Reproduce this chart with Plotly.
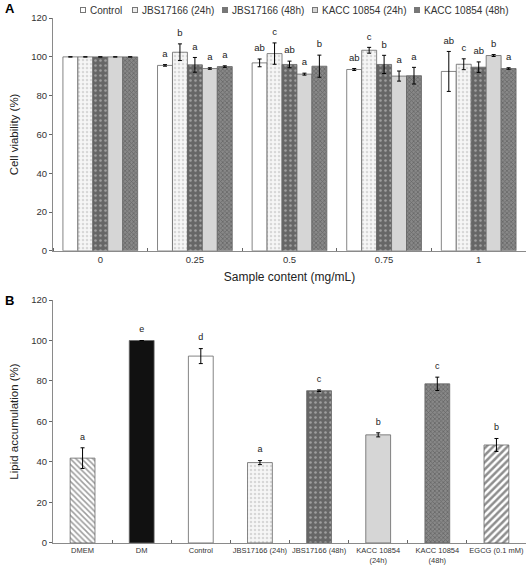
import plotly.graph_objects as go

# ---------------- Panel A data ----------------
doses = ["0", "0.25", "0.5", "0.75", "1"]
series_a = ["Control", "JBS17166 (24h)", "JBS17166 (48h)", "KACC 10854 (24h)", "KACC 10854 (48h)"]
viab_control = [100, 95.6, 96.9, 93.5, 92.5]
viab_jbs24 = [100, 102.4, 101.7, 103.4, 96.2]
viab_jbs48 = [100, 95.9, 96.1, 96.1, 94.7]
viab_kacc24 = [100, 94.0, 91.1, 90.1, 100.7]
viab_kacc48 = [100, 95.0, 95.2, 90.3, 94.0]
err_control = [0, 0.4, 2.0, 0.5, 10.3]
err_jbs24 = [0, 4.3, 5.5, 1.5, 2.8]
err_jbs48 = [0, 3.8, 1.7, 4.7, 2.7]
err_kacc24 = [0, 0.4, 0.5, 2.6, 0.5]
err_kacc48 = [0, 0.4, 5.7, 4.3, 0.4]
let_control = ["", "a", "ab", "ab", "ab"]
let_jbs24 = ["", "b", "c", "c", "c"]
let_jbs48 = ["", "a", "ab", "b", "ab"]
let_kacc24 = ["", "a", "a", "a", "b"]
let_kacc48 = ["", "a", "b", "a", "a"]

# ---------------- Panel B data ----------------
groups_b = ["DMEM", "DM", "Control", "JBS17166 (24h)", "JBS17166 (48h)",
            "KACC 10854<br>(24h)", "KACC 10854<br>(48h)", "EGCG (0.1 mM)"]
lipid = [41.9, 100, 92.3, 39.7, 75.2, 53.4, 78.6, 48.4]
lipid_err = [5.1, 0, 3.7, 1.0, 0.4, 1.0, 3.3, 3.2]
lipid_let = ["a", "e", "d", "a", "c", "b", "c", "b"]

# ---------------- styles ----------------
styles_a = [
    dict(color="white", pattern=dict(shape="")),
    dict(color="#f3f3f3", pattern=dict(shape=".", fgcolor="#b8b8b8", bgcolor="#f6f6f6", size=4, solidity=0.3)),
    dict(color="#6c6c6c", pattern=dict(shape=".", fgcolor="#d8d8d8", bgcolor="#666666", size=5, solidity=0.2)),
    dict(color="#d6d6d6", pattern=dict(shape="")),
    dict(color="#7a7a7a", pattern=dict(shape="x", fgcolor="#454545", bgcolor="#888888", size=3, solidity=0.45)),
]
legend_swatch = ["white", "#ededed", "#777777", "#d6d6d6", "#777777"]
styles_b = [
    dict(color="white", pattern=dict(shape="\\", fgcolor="#3a3a3a", bgcolor="white", size=4, solidity=0.38)),
    dict(color="#111111", pattern=dict(shape="")),
    dict(color="white", pattern=dict(shape="")),
    styles_a[1], styles_a[2], styles_a[3], styles_a[4],
    dict(color="white", pattern=dict(shape="/", fgcolor="#1e1e1e", bgcolor="white", size=5, solidity=0.5)),
]

FONT = "Arial, Liberation Sans, sans-serif"
W, H, L = 526, 565, 53
fig = go.Figure()

vals_a = [viab_control, viab_jbs24, viab_jbs48, viab_kacc24, viab_kacc48]
errs_a = [err_control, err_jbs24, err_jbs48, err_kacc24, err_kacc48]
lets_a = [let_control, let_jbs24, let_jbs48, let_kacc24, let_kacc48]
n = len(series_a)
w = 0.79 / n
idx = list(range(len(doses)))
for j in range(n):
    xs = [i + (j - (n - 1) / 2) * w for i in idx]
    st = styles_a[j]
    fig.add_trace(go.Bar(
        x=xs, y=vals_a[j], width=w, name=series_a[j],
        marker=dict(color=st["color"], pattern=st["pattern"], line=dict(color="#666666", width=0.8)),
        error_y=dict(type="data", array=errs_a[j], color="black", thickness=1, width=2),
        xaxis="x", yaxis="y", showlegend=False,
    ))
    fig.add_trace(go.Scatter(
        x=xs, y=[v + e for v, e in zip(vals_a[j], errs_a[j])], text=lets_a[j],
        mode="markers+text", marker=dict(size=7, opacity=0), textposition="top center",
        textfont=dict(size=9.5, color="#222", family=FONT),
        xaxis="x", yaxis="y", showlegend=False, hoverinfo="skip",
    ))

for k, g in enumerate(groups_b):
    st = styles_b[k]
    fig.add_trace(go.Bar(
        x=[g], y=[lipid[k]], width=0.42,
        marker=dict(color=st["color"], pattern=st["pattern"], line=dict(color="#666666", width=0.8)),
        error_y=dict(type="data", array=[lipid_err[k]], color="black", thickness=1, width=2),
        xaxis="x2", yaxis="y2", showlegend=False,
    ))
fig.add_trace(go.Scatter(
    x=groups_b, y=[v + e for v, e in zip(lipid, lipid_err)], text=lipid_let,
    mode="markers+text", marker=dict(size=8, opacity=0), textposition="top center",
    textfont=dict(size=9, color="#222", family=FONT),
    xaxis="x2", yaxis="y2", showlegend=False, hoverinfo="skip",
))

axis_common = dict(showgrid=False, zeroline=False, showline=True, linecolor="#8a8a8a",
                   linewidth=1, automargin=False)
tickf = dict(size=9.5, color="#333", family=FONT)
titlef = dict(size=11.5, family=FONT, color="#222")

# custom legend (swatch + label) across the top
legend_px = [80, 132, 222, 312, 414]
annotations = []
for j in range(n):
    px = legend_px[j]
    annotations.append(dict(text=" ", x=(px - L) / (W - L), y=1 - 10 / H, xref="paper", yref="paper",
                            xanchor="left", yanchor="middle", showarrow=False, width=4, height=4,
                            bgcolor=legend_swatch[j], bordercolor="#777777", borderwidth=1, borderpad=0,
                            font=dict(size=2)))
    annotations.append(dict(text=series_a[j], x=(px + 8 - L) / (W - L), y=1 - 10 / H, xref="paper",
                            yref="paper", xanchor="left", yanchor="middle", showarrow=False,
                            font=dict(size=10, family=FONT, color="#333")))
annotations += [
    dict(text="<b>A</b>", x=(3 - L) / (W - L), y=1 - 8 / H, xref="paper", yref="paper", xanchor="left",
         yanchor="middle", showarrow=False, font=dict(size=13, family=FONT, color="black")),
    dict(text="<b>B</b>", x=(3 - L) / (W - L), y=1 - 300 / H, xref="paper", yref="paper", xanchor="left",
         yanchor="middle", showarrow=False, font=dict(size=13, family=FONT, color="black")),
]

fig.update_layout(
    width=W, height=H,
    margin=dict(l=L, r=0, t=0, b=0),
    paper_bgcolor="white", plot_bgcolor="white",
    font=dict(family=FONT, color="#222"),
    barmode="overlay",
    showlegend=False,
    xaxis=dict(**axis_common, domain=[0, 1], anchor="y", range=[-0.5, 4.5],
               tickmode="array", tickvals=idx, ticktext=doses, ticks="", tickfont=tickf,
               minor=dict(ticks="inside", tick0=0.5, dtick=1, ticklen=3, tickcolor="#666"),
               title=dict(text="Sample content (mg/mL)", font=dict(size=12, family=FONT, color="#222"), standoff=8)),
    yaxis=dict(**axis_common, domain=[0.556, 0.968], anchor="x", range=[0, 120], dtick=20,
               ticks="outside", ticklen=3, tickcolor="#666", tickfont=tickf,
               title=dict(text="Cell viability (%)", font=titlef, standoff=10)),
    xaxis2=dict(**axis_common, domain=[0, 1], anchor="y2", type="category", tickangle=0,
                tickfont=dict(size=7.5, color="#333", family=FONT),
                tickson="boundaries", ticks="inside", ticklen=3, tickcolor="#666"),
    yaxis2=dict(**axis_common, domain=[0.039, 0.469], anchor="x2", range=[0, 120], dtick=20,
                ticks="outside", ticklen=3, tickcolor="#666", tickfont=tickf,
                title=dict(text="Lipid accumulation (%)", font=titlef, standoff=10)),
    annotations=annotations,
)

fig.write_html("out.html")
